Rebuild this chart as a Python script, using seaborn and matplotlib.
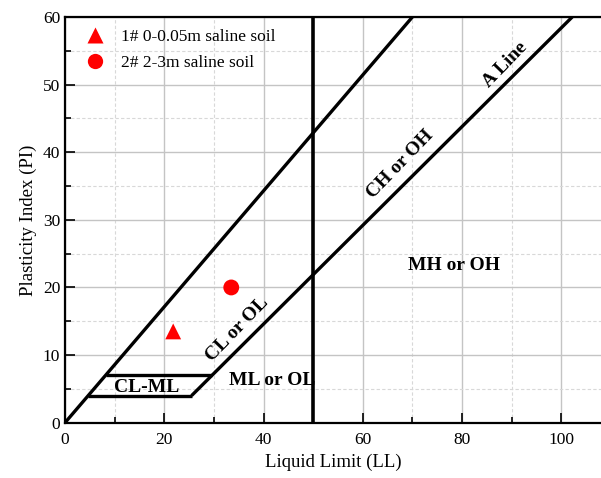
import numpy as np
import pandas as pd
import matplotlib
matplotlib.use("Agg")
import matplotlib.pyplot as plt
from matplotlib.ticker import MultipleLocator
import seaborn as sns

# Sample points (liquid limit, plasticity index)
sample_labels = ["1# 0-0.05m saline soil", "2# 2-3m saline soil"]
sample_ll = [21.8, 33.5]
sample_pi = [13.5, 20.0]
sample_markers = ["^", "o"]

# Classification boundaries
upper_line_ll = [0, 70]
upper_line_pi = [0, 60]
a_line_ll = [25.5, 102.2]
a_line_pi = [4, 60]
clml_low_ll = [4.67, 25.5]
clml_low_pi = [4, 4]
clml_high_ll = [8.17, 29.6]
clml_high_pi = [7, 7]
ll_divide = 50

sns.set_style("ticks")
plt.rcParams["font.family"] = ["Liberation Serif", "DejaVu Serif"]
plt.rcParams["mathtext.fontset"] = "stix"
for key in ["text.color", "axes.labelcolor", "xtick.color", "ytick.color"]:
    plt.rcParams[key] = "black"

fig = plt.figure(figsize=(6.01, 4.78), dpi=100)
ax = fig.add_axes([65 / 601, (478 - 422.7) / 478, 536 / 601, (422.7 - 17) / 478])

ax.set_xlim(0, 108)
ax.set_ylim(0, 60)
ax.xaxis.set_major_locator(MultipleLocator(20))
ax.xaxis.set_minor_locator(MultipleLocator(10))
ax.yaxis.set_major_locator(MultipleLocator(10))
ax.yaxis.set_minor_locator(MultipleLocator(5))

ax.grid(which="major", color="#c4c4c4", lw=1.0, ls="-", zorder=0)
ax.grid(which="minor", color="#d8d8d8", lw=0.8, ls=(0, (3, 2)), zorder=0)
ax.set_axisbelow(True)

lw = 2.4
ax.plot(upper_line_ll, upper_line_pi, color="black", lw=lw, solid_capstyle="butt", zorder=3)
ax.plot(a_line_ll, a_line_pi, color="black", lw=lw, solid_capstyle="butt", zorder=3)
ax.plot(clml_low_ll, clml_low_pi, color="black", lw=lw, solid_capstyle="butt", zorder=3)
ax.plot(clml_high_ll, clml_high_pi, color="black", lw=lw, solid_capstyle="butt", zorder=3)
ax.axvline(ll_divide, color="black", lw=2.6, zorder=3)

samples = pd.DataFrame({"LL": sample_ll, "PI": sample_pi, "Sample": sample_labels})
sns.scatterplot(data=samples, x="LL", y="PI", hue="Sample", style="Sample",
                markers=dict(zip(sample_labels, sample_markers)),
                palette=["red", "red"], s=130, edgecolor="none", ax=ax, zorder=5)

leg = ax.legend(loc="upper left", frameon=False, fontsize=12.5, handletextpad=0.55,
                borderaxespad=0.3, labelspacing=0.55, bbox_to_anchor=(0.0, 1.0))
for h in leg.legend_handles:
    h.set_markersize(11)

txt = dict(fontsize=14, fontweight="bold", ha="center", va="center", color="black", zorder=4)
ax.text(16.5, 5.2, "CL-ML", **txt)
ax.text(41.8, 6.3, "ML or OL", **txt)
ax.text(34.8, 13.8, "CL or OL", rotation=46, **txt)
ax.text(67.5, 38.2, "CH or OH", rotation=46, **txt)
ax.text(88.6, 53.0, "A Line", rotation=46, **txt)
ax.text(78.3, 23.3, "MH or OH", **txt)

ax.set_xlabel("Liquid Limit (LL)", fontsize=13.5)
ax.set_ylabel("Plasticity Index (PI)", fontsize=13.5)
ax.tick_params(which="both", direction="in", labelsize=12.5, color="black", width=1.2)
ax.tick_params(which="major", length=7)
ax.tick_params(which="minor", length=4)
ax.tick_params(axis="x", pad=7)

for side in ["left", "bottom", "top"]:
    ax.spines[side].set_visible(True)
    ax.spines[side].set_linewidth(1.6)
    ax.spines[side].set_color("black")
ax.spines["right"].set_visible(False)

fig.savefig("out.png", dpi=100)
